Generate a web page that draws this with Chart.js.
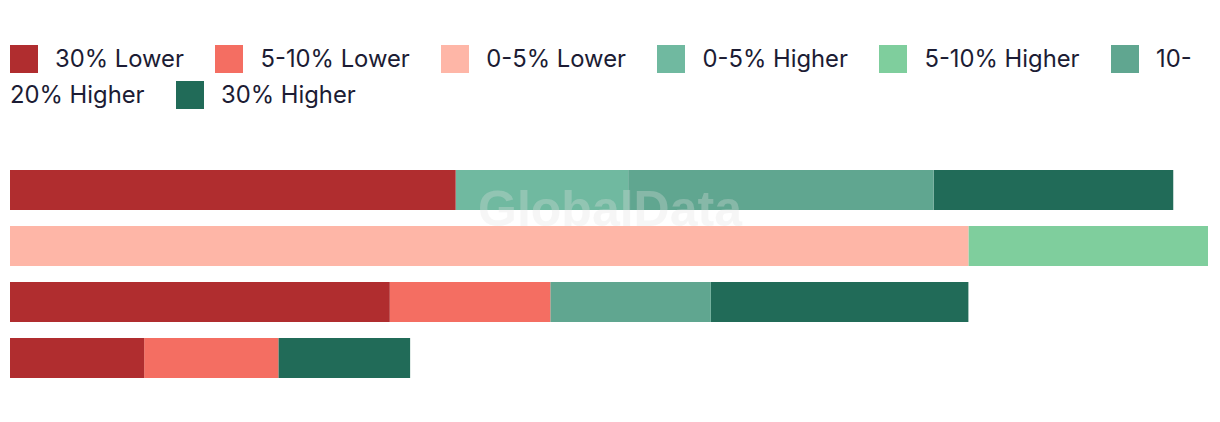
<!DOCTYPE html>
<html>
<head>
<meta charset="utf-8">
<script src="https://cdn.jsdelivr.net/npm/chart.js@4/dist/chart.umd.min.js"></script>
<style>
  html, body { margin: 0; padding: 0; background: #fff; }
  body { width: 1220px; height: 422px; position: relative; overflow: hidden; }
  #legend {
    position: absolute; left: 10px; top: 41px; width: 1200px;
    font: 23.8px Inter, "Noto Sans", sans-serif; line-height: 36px; color: #1c1c34;
  }
  #legend .item { margin-right: 24.8px; }
  #legend .box {
    display: inline-block; width: 28px; height: 28px;
    margin-right: 17px; vertical-align: -6px;
  }
  #wrap { position: absolute; left: 10px; top: 162px; width: 1198px; height: 224px; }
</style>
</head>
<body>
<div id="legend"></div>
<div id="wrap"><canvas id="chart"></canvas></div>
<script>
// datos
const categories = ["Category 1", "Category 2", "Category 3", "Category 4"];
const seriesLabels = ["30% Lower", "5-10% Lower", "0-5% Lower", "0-5% Higher", "5-10% Higher", "10-20% Higher", "30% Higher"];
const seriesColors = ["#b02d2f", "#f46e62", "#feb6a7", "#70b9a0", "#7fce9d", "#60a690", "#216b58"];

const lower30 = [37.2, 0, 31.7, 11.2];
const lower5to10 = [0, 0, 13.4, 11.2];
const lower0to5 = [0, 80, 0, 0];
const higher0to5 = [14.4, 0, 0, 0];
const higher5to10 = [0, 20, 0, 0];
const higher10to20 = [25.5, 0, 13.4, 0];
const higher30 = [20, 0, 21.5, 11.0];

const seriesValues = [lower30, lower5to10, lower0to5, higher0to5, higher5to10, higher10to20, higher30];

// leyenda en HTML (se parte como texto normal)
const legend = document.getElementById("legend");
legend.innerHTML = seriesLabels.map((label, i) =>
    '<span class="item"><span class="box" style="background:' + seriesColors[i] + '"></span>' +
    label.replace(/-/g, "-<wbr>") + '</span>'
).join(" ");

// marca de agua
const watermark = {
    id: "watermark",
    afterDatasetsDraw(chart) {
        const ctx = chart.ctx;
        ctx.save();
        ctx.font = "bold 50px 'Liberation Sans', Arial, sans-serif";
        ctx.fillStyle = "rgba(225,225,225,0.3)";
        ctx.textAlign = "center";
        ctx.textBaseline = "middle";
        ctx.fillText("GlobalData", 600, 50);
        ctx.restore();
    }
};

new Chart(document.getElementById("chart"), {
    type: "bar",
    data: {
        labels: categories,
        datasets: seriesLabels.map((label, i) => ({
            label: label,
            data: seriesValues[i],
            backgroundColor: seriesColors[i],
            borderWidth: 0,
            categoryPercentage: 0.714,
            barPercentage: 1
        }))
    },
    options: {
        indexAxis: "y",
        responsive: true,
        maintainAspectRatio: false,
        animation: false,
        layout: { padding: 0 },
        plugins: { legend: { display: false }, tooltip: { enabled: false } },
        scales: {
            x: { stacked: true, display: false, min: 0, max: 100 },
            y: { stacked: true, display: false }
        }
    },
    plugins: [watermark]
});
</script>
</body>
</html>
